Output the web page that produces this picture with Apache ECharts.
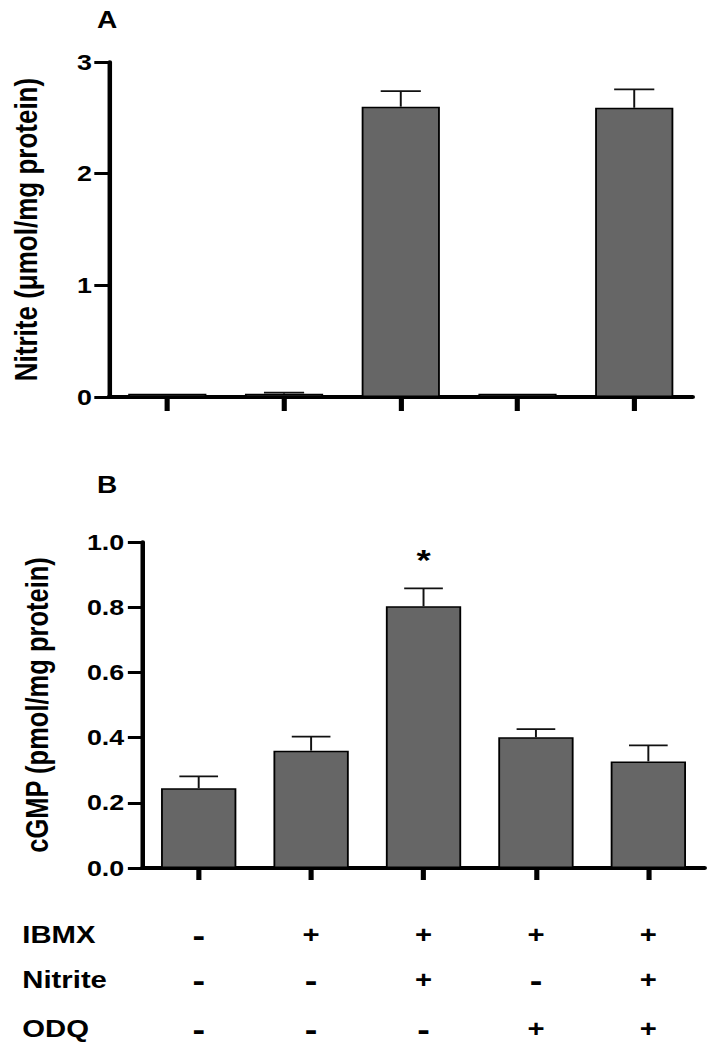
<!DOCTYPE html>
<html>
<head>
<meta charset="utf-8">
<script src="https://cdn.jsdelivr.net/npm/echarts@6/dist/echarts.min.js"></script>
<style>
html,body{margin:0;padding:0;background:#fff;overflow:hidden;}
#wrap{width:718px;height:1050px;overflow:hidden;}
#chart{width:588.5px;height:1050px;transform:scaleX(1.22);transform-origin:0 0;}
</style>
</head>
<body>
<div id="wrap"><div id="chart"></div></div>
<script>
// ---- data ----
var categories = ['1', '2', '3', '4', '5'];
var nitriteMean = [0.03, 0.03, 2.60, 0.03, 2.59];
var nitriteSEM = [0, 0.01, 0.14, 0, 0.165];
var cgmpMean = [0.245, 0.36, 0.803, 0.401, 0.327];
var cgmpSEM = [0.036, 0.043, 0.055, 0.025, 0.049];
var cgmpMarks = ['', '', '*', '', ''];
var rowNames = ['IBMX', 'Nitrite', 'ODQ'];
var ibmxRow = ['-', '+', '+', '+', '+'];
var nitriteRow = ['-', '-', '+', '-', '+'];
var odqRow = ['-', '-', '-', '+', '+'];
var panelLabels = ['A', 'B'];
var yNames = ['Nitrite (\u03bcmol/mg protein)', 'cGMP (pmol/mg protein)'];

var FONT = 'Liberation Sans';
var chart = echarts.init(document.getElementById('chart'), null, {renderer: 'svg'});

function errorSeries(xIdx, yIdx, means, sems, marks) {
  return {
    type: 'custom', xAxisIndex: xIdx, yAxisIndex: yIdx, z: 10, silent: true,
    data: means.map(function (m, i) { return [i, m, m + sems[i]]; }),
    renderItem: function (params, api) {
      var i = api.value(0);
      var lo = api.coord([i, api.value(1)]);
      var hi = api.coord([i, api.value(2)]);
      var band = api.size([1, 0])[0];
      var half = band * 0.172;
      var children = [];
      if (lo[1] - hi[1] > 0.5) {
        children.push({type: 'line', shape: {x1: lo[0], y1: lo[1], x2: hi[0], y2: hi[1]}, style: {stroke: '#111', lineWidth: 1.6}});
        children.push({type: 'line', shape: {x1: hi[0] - half, y1: hi[1], x2: hi[0] + half, y2: hi[1]}, style: {stroke: '#111', lineWidth: 1.8}});
      }
      var mk = marks ? marks[params.dataIndex] : '';
      if (mk) {
        children.push({type: 'text', style: {text: mk, x: hi[0], y: hi[1] - 29, align: 'center', verticalAlign: 'middle', font: 'bold 30px "' + FONT + '"', fill: '#000'}});
      }
      return {type: 'group', children: children};
    }
  };
}

var labelStyle = {color: '#000', fontFamily: FONT, fontWeight: 'bold', fontSize: 22};
var nameStyle = {color: '#000', fontFamily: FONT, fontWeight: 'bold', fontSize: 26};

function tableAxis(row, name, offset) {
  return {
    type: 'category', gridIndex: 1, data: row, position: 'bottom', offset: offset,
    axisLine: {show: false}, axisTick: {show: false}, splitLine: {show: false},
    axisLabel: {interval: 0, margin: 0, verticalAlign: 'middle', color: '#000',
      formatter: function (v) { return v === '-' ? '{m|-}' : '{p|+}'; },
      rich: {
        m: {fontFamily: FONT, fontWeight: 'bold', fontSize: 31, color: '#000', verticalAlign: 'middle'},
        p: {fontFamily: FONT, fontWeight: 'bold', fontSize: 24, color: '#000', verticalAlign: 'middle'}
      }},
    name: name, nameLocation: 'start', nameGap: 98.5,
    nameTextStyle: {align: 'left', verticalAlign: 'middle', color: '#000', fontFamily: FONT, fontWeight: 'bold', fontSize: 24}
  };
}

function xCat(gridIndex, tickLen) {
  return {type: 'category', gridIndex: gridIndex, data: categories,
    axisLine: {show: true, lineStyle: {color: '#000', width: 4}},
    axisTick: {show: true, alignWithLabel: true, interval: 0, length: tickLen, lineStyle: {color: '#000', width: 4.2}},
    axisLabel: {show: false}, splitLine: {show: false}};
}

var option = {
  animation: false,
  backgroundColor: '#fff',
  graphic: [
    {type: 'text', left: 79.5, top: 8, style: {text: panelLabels[0], font: 'bold 23px "' + FONT + '"', fill: '#000'}},
    {type: 'text', left: 79.5, top: 473, style: {text: panelLabels[1], font: 'bold 23px "' + FONT + '"', fill: '#000'}}
  ],
  grid: [
    {left: 89.3, right: 21.3, top: 62, bottom: 653, containLabel: false},
    {left: 116.8, right: 11.5, top: 542, bottom: 182, containLabel: false}
  ],
  xAxis: [
    xCat(0, 14),
    xCat(1, 12),
    tableAxis(ibmxRow, rowNames[0], 67),
    tableAxis(nitriteRow, rowNames[1], 112),
    tableAxis(odqRow, rowNames[2], 161)
  ],
  yAxis: [
    {type: 'value', gridIndex: 0, min: 0, max: 3, interval: 1,
      name: yNames[0], nameLocation: 'middle', nameGap: 55, nameTextStyle: nameStyle,
      axisLine: {show: true, lineStyle: {color: '#000', width: 3.7}},
      axisTick: {show: true, length: 12, lineStyle: {color: '#000', width: 3}},
      axisLabel: Object.assign({margin: 14}, labelStyle), splitLine: {show: false}},
    {type: 'value', gridIndex: 1, min: 0, max: 1, interval: 0.2,
      name: yNames[1], nameLocation: 'middle', nameGap: 73.5, nameTextStyle: Object.assign({}, nameStyle, {fontSize: 25.5}),
      axisLine: {show: true, lineStyle: {color: '#000', width: 3.7}},
      axisTick: {show: true, length: 12, lineStyle: {color: '#000', width: 3}},
      axisLabel: Object.assign({margin: 15, formatter: function (v) { return v.toFixed(1); }}, labelStyle), splitLine: {show: false}}
  ],
  series: [
    {type: 'bar', xAxisIndex: 0, yAxisIndex: 0, data: nitriteMean, barWidth: '67%',
      itemStyle: {color: '#666666', borderColor: '#000', borderWidth: 1.5}},
    errorSeries(0, 0, nitriteMean, nitriteSEM, null),
    {type: 'bar', xAxisIndex: 1, yAxisIndex: 1, data: cgmpMean, barWidth: '67%',
      itemStyle: {color: '#666666', borderColor: '#000', borderWidth: 1.5}},
    errorSeries(1, 1, cgmpMean, cgmpSEM, cgmpMarks)
  ]
};
chart.setOption(option);
</script>
</body>
</html>
